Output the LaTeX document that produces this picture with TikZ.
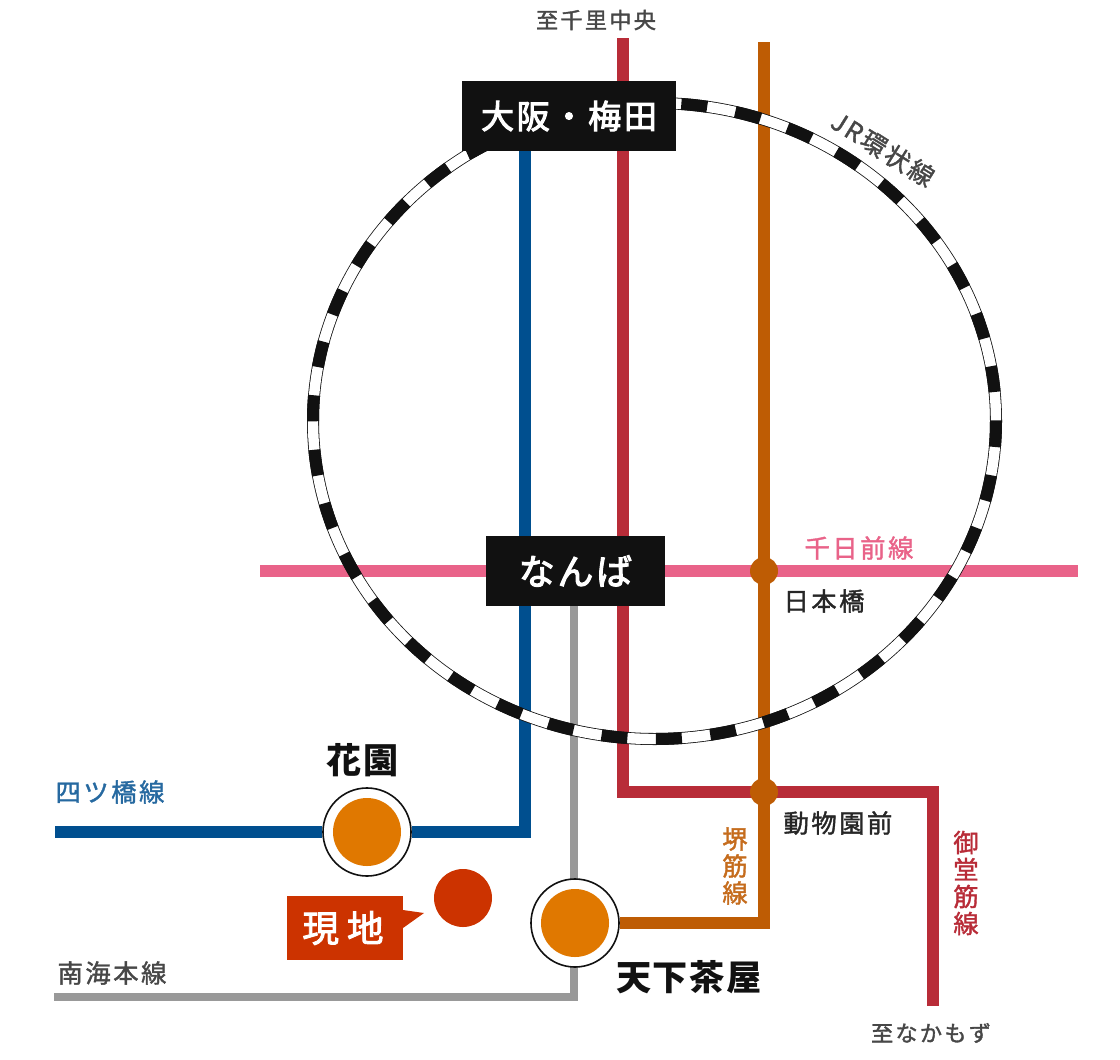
\documentclass[tikz,border=0pt]{standalone}
\usepackage{fontspec}
\usepackage{xcolor}
\usetikzlibrary{backgrounds}
\newfontfamily\jpsmall[LetterSpace=10,FakeBold=1.5]{Noto Sans CJK JP}
\newfontfamily\jpbox[LetterSpace=8,FakeBold=3]{Noto Sans CJK JP}
\newfontfamily\jpsite[LetterSpace=22,FakeBold=2.5]{Noto Sans CJK JP}
\newfontfamily\jpbig[LetterSpace=5]{Noto Sans CJK JP}
\definecolor{midoline}{HTML}{B82C38}
\definecolor{sakailine}{HTML}{BE5C04}
\definecolor{yotsuline}{HTML}{004F8F}
\definecolor{senline}{HTML}{E96389}
\definecolor{nankailine}{HTML}{999999}
\definecolor{boxblack}{HTML}{111111}
\definecolor{stationcol}{HTML}{E07800}
\definecolor{sitecol}{HTML}{CC3300}
\begin{document}
\begin{tikzpicture}[
  x=0.025cm, y=-0.025cm,
  rail/.style={line width=0.3cm, miter limit=10},
  thinrail/.style={line width=0.2cm, miter limit=10, draw=nankailine},
  bigbox/.style={fill=boxblack, text=white, inner sep=0pt, font=\jpbox\fontsize{23.5}{28}\selectfont},
  junction/.style={circle, fill=sakailine, minimum size=0.7cm, inner sep=0pt},
  stationring/.style={circle, draw=boxblack, line width=0.04cm, fill=white, minimum size=2.2cm, inner sep=0pt},
  stationcore/.style={circle, fill=stationcol, minimum size=1.7cm, inner sep=0pt},
  linelabel/.style={inner sep=0pt, font=\jpsmall\fontsize{18}{19.2}\selectfont, align=center},
  headlabel/.style={inner sep=0pt, text=black!72, font=\jpsmall\fontsize{15.8}{19.2}\selectfont},
  stationname/.style={inner sep=0pt, text=boxblack, font=\jpbig\bfseries\fontsize{25}{28}\selectfont}
]
\useasboundingbox (0,0) rectangle (1120,1060);
% boxes and stations
\node[bigbox, minimum width=5.35cm, minimum height=1.75cm] (umeda) at (569,116) {大阪・梅田};
\node[bigbox, minimum width=4.475cm, minimum height=1.75cm, font=\jpbox\fontsize{25.5}{28}\selectfont] (namba) at (575.5,571) {なんば};
\fill[boxblack] (466,151) -- (470,160) -- (487,151) -- cycle;
\node[junction] (nippombashi) at (764,571) {};
\node[junction] (dobutsuen) at (764,792) {};
\node[stationring] (hanazono) at (367,832) {};
\node[stationcore] (hanazonocore) at (hanazono) {};
\node[stationring] (tengachaya) at (575,923) {};
\node[stationcore] (tengachayacore) at (tengachaya) {};
\node[circle, fill=sitecol, minimum size=1.45cm, inner sep=0pt] (site) at (463,898) {};
\node[fill=sitecol, text=white, minimum width=2.9cm, minimum height=1.6cm, inner sep=0pt,
  font=\jpsite\fontsize{26}{28}\selectfont] (genchi) at (345,928) {\hspace{-0.1cm}現地\hspace{0.1cm}};
\fill[sitecol] (403,910) -- (424,913) -- (403,928) -- cycle;
% line ends
\coordinate (midotop) at (623,38);
\coordinate (midoknee) at (623,792);
\coordinate (midoelbow) at (933,792);
\coordinate (midoend) at (933,1006);
\coordinate (sakaitop) at (764,42);
\coordinate (sakaiknee) at (764,923);
\coordinate (yotsutop) at (525,140);
\coordinate (yotsuknee) at (525,832);
\coordinate (yotsuend) at (55,832);
\coordinate (nankaitop) at (574,600);
\coordinate (nankaiknee) at (574,997);
\coordinate (nankaiend) at (54,997);
\coordinate (senleft) at (260,571);
\coordinate (senright) at (1078,571);
\coordinate (loopmid) at (654.5,421);
\begin{scope}[on background layer]
\draw[rail, draw=senline] (senleft) -- (senright);
\draw[rail, draw=yotsuline] (yotsutop) -- (yotsuknee) -- (hanazono) -- (yotsuend);
\draw[thinrail] (nankaitop) -- (nankaiknee) -- (nankaiend);
\draw[rail, draw=midoline] (midotop) -- (midoknee) -- (midoelbow) -- (midoend);
\draw[rail, draw=sakailine] (sakaitop) -- (sakaiknee) -- (tengachaya);
\draw[line width=0.3cm, draw=boxblack] (loopmid) ellipse [x radius=341.5, y radius=318];
\draw[line width=0.26cm, draw=white] (loopmid) ellipse [x radius=341.5, y radius=318];
\draw[line width=0.3cm, draw=boxblack, dash pattern=on 0.65cm off 0.713cm] (loopmid) ellipse [x radius=341.5, y radius=318];
\end{scope}
% labels
\node[headlabel] (tosenri) at (596,20) {至千里中央};
\node[linelabel, text=black!72, rotate=-32] (jrloop) at (883,149) {JR環状線};
\node[linelabel, text=senline] (senlabel) at (859,548) {千日前線};
\node[linelabel, text=black!85] (nippolabel) at (824,601) {日本橋};
\node[stationname] (hanazonolabel) at (363,760) {花園};
\node[linelabel, text=yotsuline!85!white] (yotsulabel) at (110,792) {四ツ橋線};
\node[linelabel, text=black!72] (nankailabel) at (112,973) {南海本線};
\node[linelabel, text=sakailine!90!white] (sakailabel) at (735,866) {堺\\筋\\線};
\node[linelabel, text=black!85] (dobutsulabel) at (838,823) {動物園前};
\node[linelabel, text=midoline] (midolabel) at (966,883) {御\\堂\\筋\\線};
\node[stationname] (tengalabel) at (689,977) {天下茶屋};
\node[headlabel] (tonakamozu) at (931,1033) {至なかもず};
\end{tikzpicture}
\end{document}
